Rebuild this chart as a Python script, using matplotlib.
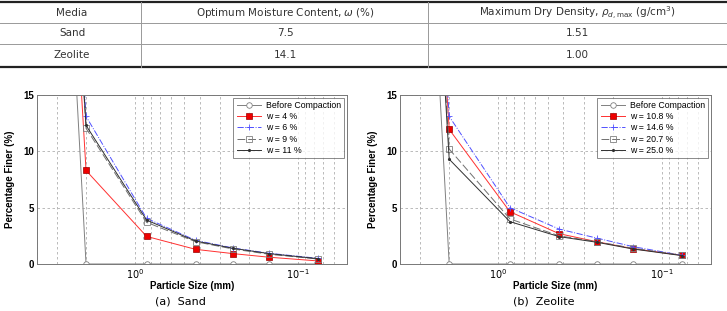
import numpy as np
import matplotlib
matplotlib.use('Agg')
import matplotlib.pyplot as plt
from matplotlib.ticker import LogLocator, NullFormatter, FixedLocator

plt.rcParams['font.family'] = ['Liberation Sans', 'DejaVu Sans']

# table data
col_labels = ['Media', 'Optimum Moisture Content, $\\omega$ (%)',
              'Maximum Dry Density, $\\rho_{d,\\max}$ (g/cm$^3$)']
media = ['Sand', 'Zeolite']
omc = ['7.5', '14.1']
mdd = ['1.51', '1.00']

# sieve sizes (mm)
sieve = [4.75, 2.0, 0.85, 0.425, 0.25, 0.15, 0.075]
before = [100, 0, 0, 0, 0, 0, 0]

sand_labels = ['w = 4 %', 'w = 6 %', 'w = 9 %', 'w = 11 %']
sand_4 = [100, 8.3, 2.45, 1.3, 0.92, 0.6, 0.27]
sand_6 = [100, 13.1, 4.05, 2.1, 1.42, 0.95, 0.5]
sand_9 = [100, 12.05, 3.7, 1.98, 1.33, 0.86, 0.44]
sand_11 = [100, 12.3, 3.9, 2.04, 1.39, 0.92, 0.47]

zeo_labels = ['w = 10.8 %', 'w = 14.6 %', 'w = 20.7 %', 'w = 25.0 %']
zeo_108 = [100, 11.95, 4.64, 2.69, 1.98, 1.36, 0.77]
zeo_146 = [100, 13.1, 5.0, 3.1, 2.3, 1.54, 0.77]
zeo_207 = [100, 10.2, 4.0, 2.5, 1.98, 1.4, 0.77]
zeo_250 = [100, 9.3, 3.76, 2.43, 1.93, 1.33, 0.74]

W, H = 727, 311
fig = plt.figure(figsize=(W / 100, H / 100), dpi=100)

# ---- table at the top ----
tab = fig.add_axes([0, 1 - 70 / H, 1, 70 / H])
tab.set_xlim(0, W)
tab.set_ylim(70, 0)
tab.axis('off')
tab.axhline(2, color='#222222', lw=1.6)
tab.axhline(23, color='#999999', lw=0.7)
tab.axhline(44, color='#999999', lw=0.7)
tab.axhline(66.5, color='#222222', lw=1.6)
for xv in [141, 428]:
    tab.plot([xv, xv], [2, 66.5], color='#999999', lw=0.7)
xc = [72, 285, 577]
for j, lab in enumerate(col_labels):
    tab.text(xc[j], 12.5, lab, ha='center', va='center', fontsize=7.5, family='DejaVu Sans', color='#333333')
for i in range(len(media)):
    yy = 33.5 + 21 * i
    for j, val in enumerate([media[i], omc[i], mdd[i]]):
        tab.text(xc[j], yy, val, ha='center', va='center', fontsize=7.5, family='DejaVu Sans', color='#333333')


def panel(ax, labels, series):
    ax.plot(sieve, before, '-', color='#808080', lw=0.7, marker='o', ms=4,
            mfc='white', mec='#808080', mew=0.6, label='Before Compaction')
    ax.plot(sieve, series[0], '-', color='#ff3030', lw=0.7, marker='s', ms=4.5,
            mfc='#ee0000', mec='#990000', mew=0.5, label=labels[0])
    ax.plot(sieve, series[1], '-.', color='#5050ff', lw=0.7, marker='+', ms=4,
            mew=0.6, label=labels[1])
    ax.plot(sieve, series[2], '--', color='#707070', lw=0.7, marker='s', ms=4,
            mfc='none', mec='#808080', mew=0.6, dashes=(8, 3), label=labels[2])
    ax.plot(sieve, series[3], '-', color='#303030', lw=0.7, marker='.', ms=2.5,
            label=labels[3])
    ax.set_xscale('log')
    ax.set_xlim(4.0, 0.05)
    ax.set_ylim(0, 15)
    ax.set_yticks([0, 5, 10, 15])
    ax.xaxis.set_major_locator(FixedLocator([1.0, 0.1]))
    ax.set_xticklabels(['$10^{0}$', '$10^{-1}$'])
    ax.xaxis.set_minor_locator(LogLocator(base=10, subs=np.arange(2, 10)))
    ax.xaxis.set_minor_formatter(NullFormatter())
    ax.grid(True, which='both', axis='x', linestyle=(0, (3, 3)), color='#b0b0b0', lw=0.6)
    ax.grid(True, which='major', axis='y', linestyle=(0, (3, 3)), color='#b0b0b0', lw=0.6)
    ax.tick_params(which='both', length=0, labelsize=7, pad=2)
    for t in ax.get_yticklabels():
        t.set_fontweight('bold')
    for s in ax.spines.values():
        s.set_color('#777777')
        s.set_linewidth(0.7)
    ax.set_xlabel('Particle Size (mm)', fontsize=7, fontweight='bold', labelpad=0.5)
    ax.set_ylabel('Percentage Finer (%)', fontsize=7, fontweight='bold', labelpad=6)
    leg = ax.legend(loc='upper right', fontsize=6.3, handlelength=2.8, borderaxespad=0.3,
                    labelspacing=0.25, frameon=True, fancybox=False, borderpad=0.4,
                    handletextpad=0.5)
    leg.get_frame().set_edgecolor('#555555')
    leg.get_frame().set_linewidth(0.6)


ax1 = fig.add_axes([37 / W, 1 - 264 / H, 310 / W, 169 / H])
panel(ax1, sand_labels, [sand_4, sand_6, sand_9, sand_11])
ax2 = fig.add_axes([400 / W, 1 - 264 / H, 311 / W, 169 / H])
panel(ax2, zeo_labels, [zeo_108, zeo_146, zeo_207, zeo_250])

fig.text(180 / W, 1 - 301 / H, '(a)  Sand', ha='center', va='center', fontsize=8, family='DejaVu Sans')
fig.text(544 / W, 1 - 301 / H, '(b)  Zeolite', ha='center', va='center', fontsize=8, family='DejaVu Sans')

fig.savefig('out.png', dpi=100)
